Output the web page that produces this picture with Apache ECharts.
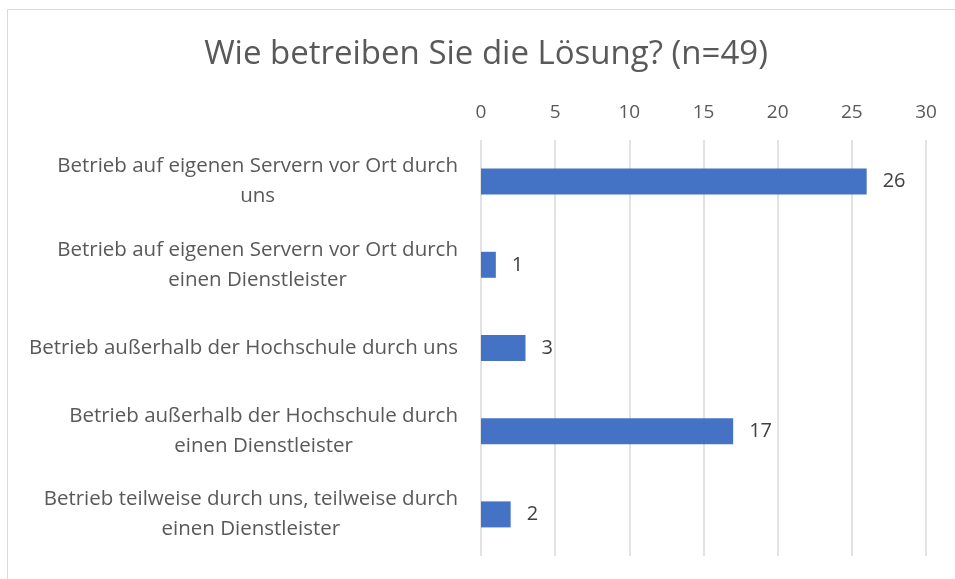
<!DOCTYPE html>
<html><head><meta charset="utf-8">
<script src="https://cdn.jsdelivr.net/npm/echarts@6/dist/echarts.min.js"></script>
<style>html,body{margin:0;padding:0;background:#fff}#c{width:955px;height:579px}</style>
</head><body><div id="c"></div>
<script>
const titleText = 'Wie betreiben Sie die Lösung? (n=49)';
const categories = [
  ['Betrieb auf eigenen Servern vor Ort durch', 'uns'],
  ['Betrieb auf eigenen Servern vor Ort durch', 'einen Dienstleister'],
  ['Betrieb außerhalb der Hochschule durch uns'],
  ['Betrieb außerhalb der Hochschule durch', 'einen Dienstleister'],
  ['Betrieb teilweise durch uns, teilweise durch', 'einen Dienstleister']
];
const values = [26, 1, 3, 17, 2];
const xTicks = { min: 0, max: 30, interval: 5 };

const FONT = 'Open Sans';
const chart = echarts.init(document.getElementById('c'));
chart.setOption({
  animation: false,
  graphic: [{
    type: 'rect', shape: { x: 7.5, y: 9.5, width: 1000, height: 1000 },
    style: { fill: 'none', stroke: '#d9d9d9', lineWidth: 1 }, silent: true
  }],
  title: {
    text: titleText, left: 481, textAlign: 'center', top: 33,
    textStyle: { fontFamily: FONT, fontSize: 33, fontWeight: 'normal', color: '#595959' }
  },
  grid: { left: 481, right: 29, top: 140, bottom: 23, containLabel: false },
  xAxis: {
    type: 'value', position: 'top', min: xTicks.min, max: xTicks.max, interval: xTicks.interval,
    axisLine: { show: false }, axisTick: { show: false },
    axisLabel: { fontFamily: FONT, fontSize: 19, color: '#595959', margin: 18 },
    splitLine: { lineStyle: { color: '#d9d9d9', width: 1.5 } }
  },
  yAxis: {
    type: 'category', inverse: true, data: categories.map(c => c.join('\n')),
    axisLine: { show: false }, axisTick: { show: false },
    axisLabel: {
      margin: 23, lineHeight: 30,
      formatter: v => v.split('\n').map(s => '{c|' + s + '}').join('\n'),
      rich: { c: { align: 'center', fontFamily: FONT, fontSize: 20.5, color: '#595959', lineHeight: 30 } }
    }
  },
  series: [{
    type: 'bar', data: values, barWidth: 26,
    itemStyle: { color: '#4472C4' },
    label: { show: true, position: 'right', distance: 16, fontFamily: FONT, fontSize: 20, color: '#404040' }
  }]
});
</script></body></html>
